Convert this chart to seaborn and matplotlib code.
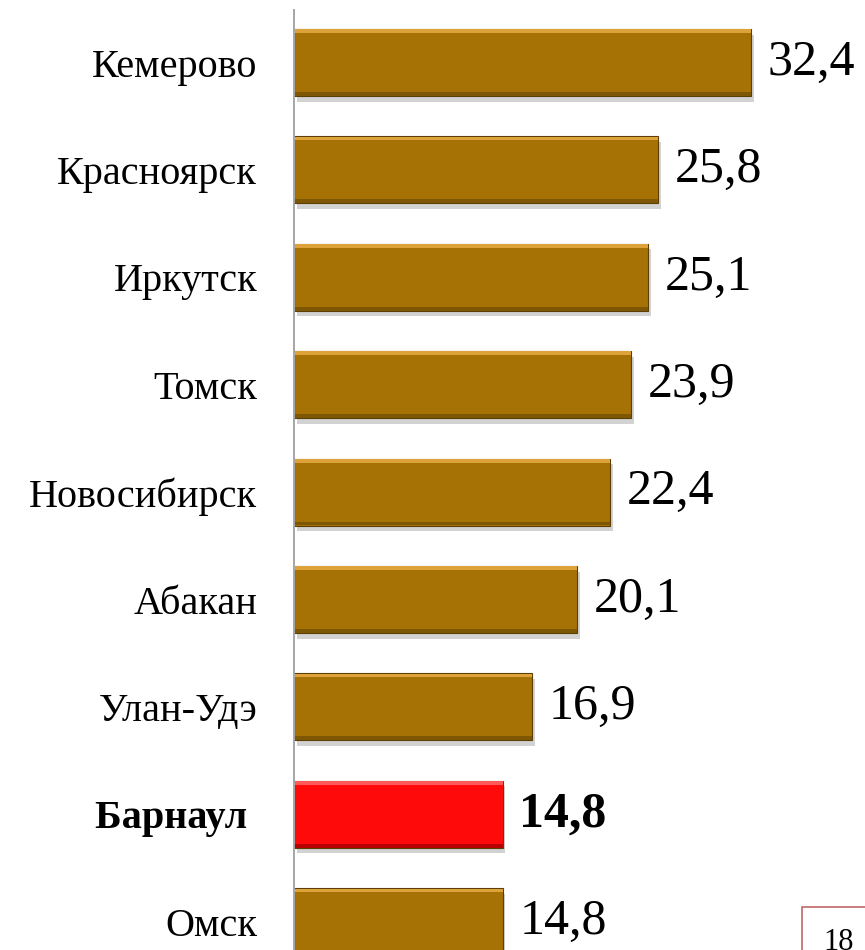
import numpy as np
import pandas as pd
import matplotlib
matplotlib.use("Agg")
import matplotlib.pyplot as plt
import matplotlib.patheffects as pe
import seaborn as sns

# Данные
cities = ["Кемерово", "Красноярск", "Иркутск", "Томск", "Новосибирск",
          "Абакан", "Улан-Удэ", "Барнаул", "Омск"]
values = [32.4, 25.8, 25.1, 23.9, 22.4, 20.1, 16.9, 14.8, 14.8]
highlight = "Барнаул"
page_number = "18"

GOLD = "#A67206"
RED = "#FF0A0A"

sns.set_style("white")
plt.rcParams["font.family"] = ["Liberation Serif", "DejaVu Serif"]
plt.rcParams["text.color"] = "black"
plt.rcParams["ytick.color"] = "black"
plt.rcParams["ytick.labelcolor"] = "black"

df = pd.DataFrame({"city": cities, "value": values})
palette = {c: (RED if c == highlight else GOLD) for c in cities}

fig = plt.figure(figsize=(8.65, 9.5), dpi=100)
ax = fig.add_axes([294 / 865, 0.0, 564 / 865, 940 / 950])

bar_h = 0.624
sns.barplot(data=df, y="city", x="value", hue="city", palette=palette,
            orient="h", width=bar_h, legend=False, saturation=1, ax=ax,
            edgecolor="#5C3F04", linewidth=0.8)

for patch in ax.patches:
    patch.set_path_effects([
        pe.SimplePatchShadow(offset=(2, -4), shadow_rgbFace="#808080", alpha=0.35),
        pe.Normal(),
    ])

# светлая фаска сверху и тёмная снизу
light = ["#DDA33A" if c != highlight else "#FF5A5A" for c in cities]
dark = ["#7E5705" if c != highlight else "#B80000" for c in cities]
ypos = np.arange(len(cities))
ax.barh(ypos - bar_h / 2 + 0.02, values, height=0.035, color=light, linewidth=0)
ax.barh(ypos + bar_h / 2 - 0.02, values, height=0.035, color=dark, linewidth=0)

# подписи значений
for i, (c, v) in enumerate(zip(cities, values)):
    txt = f"{v:.1f}".replace(".", ",")
    ax.annotate(txt, xy=(v, i), xytext=(12, 0), textcoords="offset points",
                va="center", ha="left", fontsize=36, color="black",
                fontweight="bold" if c == highlight else "normal",
                annotation_clip=False)

ax.set_xlim(0, 40)
ax.set_ylim(8.263, -0.489)
ax.set_xlabel("")
ax.set_ylabel("")
ax.set_xticks([])
ax.tick_params(axis="y", length=0, pad=26.5, labelsize=29, labelcolor="black")
ax.set_yticks(ypos)
ax.set_yticklabels([c + " " if c == highlight else c for c in cities])
for lab in ax.get_yticklabels():
    if lab.get_text().strip() == highlight:
        lab.set_fontweight("bold")

for s in ["top", "right", "bottom"]:
    ax.spines[s].set_visible(False)
ax.spines["left"].set_color("#A6A6A6")
ax.spines["left"].set_linewidth(1.4)
ax.set_facecolor("white")

# номер слайда в рамке (в оригинале обрезан краем)
fig.text(823 / 865, 1 - 928 / 950, page_number, fontsize=22, ha="left", va="top",
         color="black",
         bbox=dict(boxstyle="square,pad=0.7", facecolor="white", edgecolor="#C06868", linewidth=1.2))

fig.savefig("out.png", dpi=100)
plt.close(fig)
